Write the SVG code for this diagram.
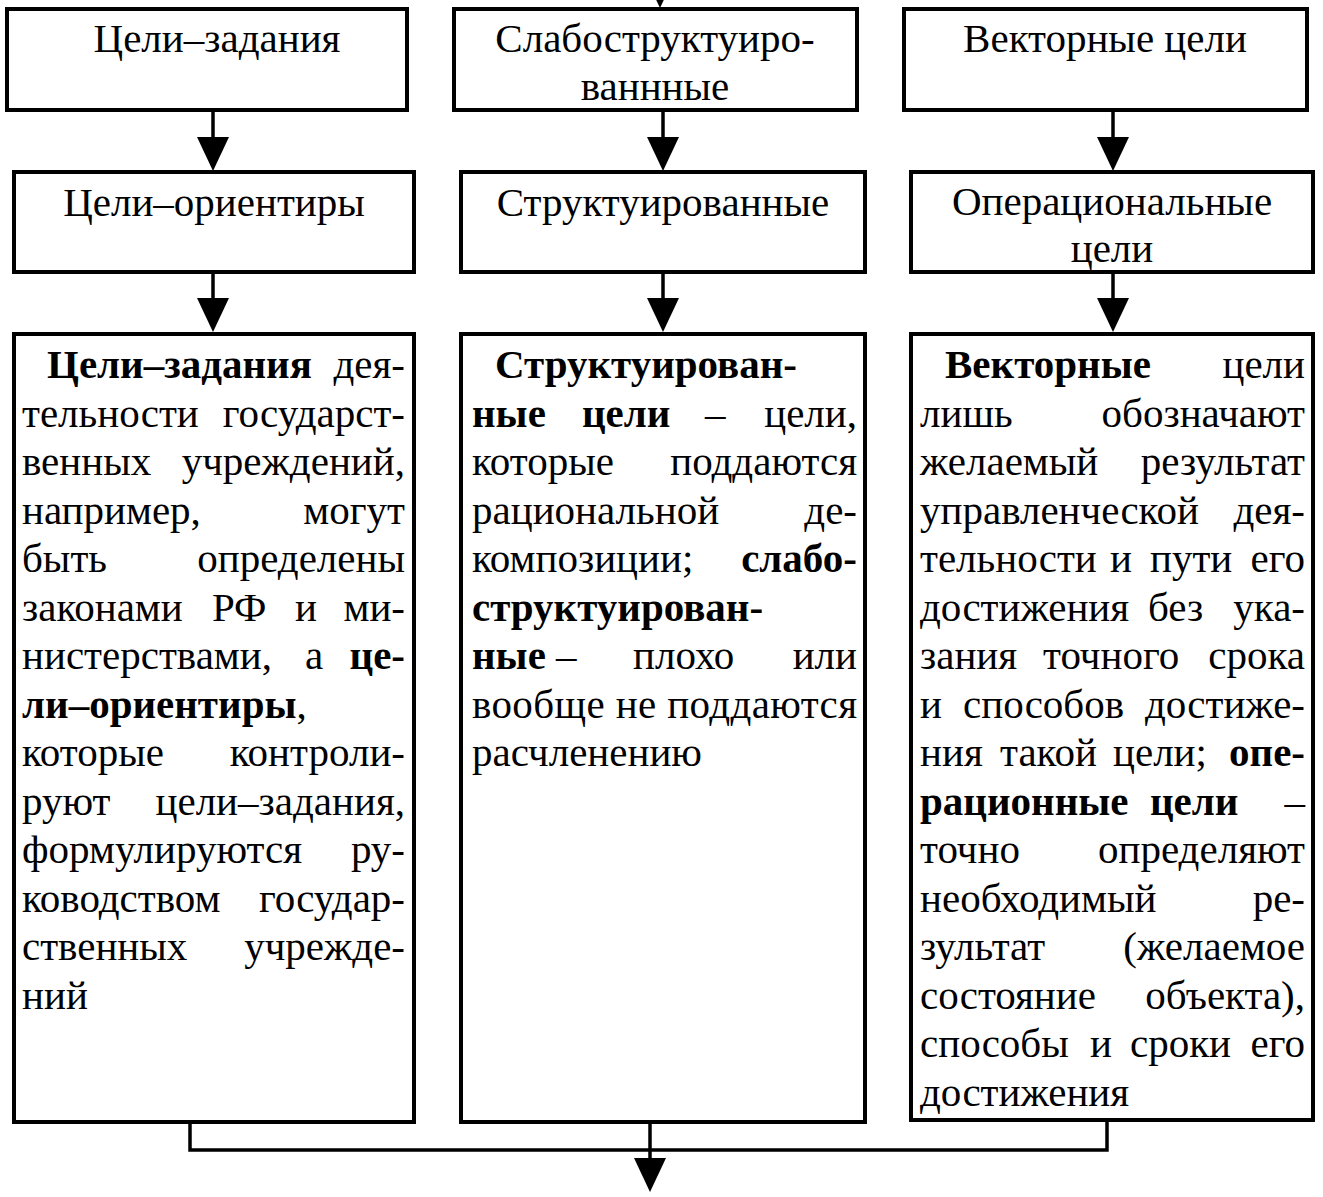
<svg xmlns="http://www.w3.org/2000/svg" width="1323" height="1197" viewBox="0 0 1323 1197">
<style>
.box{fill:#ffffff;stroke:#000;stroke-width:4}
text{font-family:"Liberation Serif","Times New Roman",serif;font-size:41px;fill:#000}
.h{text-anchor:middle}
.b{font-weight:bold}
.e{text-anchor:end}
.ln{stroke:#000;stroke-width:3.5;fill:none}
.ah{fill:#000}
</style>
<defs>
<path id="head" d="M-16,0 L16,0 L0,34 Z"/>
</defs>
<rect width="1323" height="1197" fill="#fff"/>

<g id="connectors">
<line class="ln" x1="660" y1="-30" x2="660" y2="-20"/>
<use href="#head" class="ah" x="660" y="-26"/>
<line class="ln" x1="213" y1="110" x2="213" y2="140"/>
<use href="#head" class="ah" x="213" y="137"/>
<line class="ln" x1="663" y1="110" x2="663" y2="140"/>
<use href="#head" class="ah" x="663" y="137"/>
<line class="ln" x1="1113" y1="110" x2="1113" y2="140"/>
<use href="#head" class="ah" x="1113" y="137"/>
<line class="ln" x1="213" y1="272" x2="213" y2="302"/>
<use href="#head" class="ah" x="213" y="298"/>
<line class="ln" x1="663" y1="272" x2="663" y2="302"/>
<use href="#head" class="ah" x="663" y="298"/>
<line class="ln" x1="1113" y1="272" x2="1113" y2="302"/>
<use href="#head" class="ah" x="1113" y="298"/>
<polyline class="ln" points="190,1122 190,1150 1107,1150 1107,1120"/>
<line class="ln" x1="650" y1="1122" x2="650" y2="1162"/>
<use href="#head" class="ah" x="650" y="1158"/>
</g>

<g id="n-goals-tasks">
<rect class="box" x="7" y="9" width="400" height="101"/>
<text class="h" x="217" y="52">Цели–задания</text>
</g>
<g id="n-weakly-structured">
<rect class="box" x="454" y="9" width="403" height="101"/>
<text class="h" x="655" y="52">Слабоструктуиро-</text>
<text class="h" x="655" y="100">ваннные</text>
</g>
<g id="n-vector">
<rect class="box" x="904" y="9" width="403" height="101"/>
<text class="h" x="1105" y="52">Векторные цели</text>
</g>

<g id="n-goals-landmarks">
<rect class="box" x="14" y="172" width="400" height="100"/>
<text class="h" x="214" y="216">Цели–ориентиры</text>
</g>
<g id="n-structured">
<rect class="box" x="461" y="172" width="404" height="100"/>
<text class="h" x="663" y="216">Структуированные</text>
</g>
<g id="n-operational">
<rect class="box" x="911" y="172" width="402" height="100"/>
<text class="h" x="1112" y="215">Операциональные</text>
<text class="h" x="1112" y="262">цели</text>
</g>

<g id="n-desc-1">
<rect class="box" x="14" y="334" width="400" height="788"/>
<text class="b" x="47" y="378">Цели–задания</text><text class="e" x="405" y="378">дея-</text>
<text x="22" y="426.5">тельности</text><text class="e" x="405" y="426.5">государст-</text>
<text x="22" y="475">венных</text><text class="e" x="405" y="475">учреждений,</text>
<text x="22" y="523.5">например,</text><text class="e" x="405" y="523.5">могут</text>
<text x="22" y="572">быть</text><text class="e" x="405" y="572">определены</text>
<text x="22" y="620.5">законами</text><text x="212" y="620.5">РФ</text><text x="295" y="620.5">и</text><text class="e" x="405" y="620.5">ми-</text>
<text x="22" y="669">нистерствами,</text><text x="305" y="669">а</text><text class="e b" x="405" y="669">це-</text>
<text x="22" y="717.5"><tspan class="b">ли–ориентиры</tspan>,</text>
<text x="22" y="766">которые</text><text class="e" x="405" y="766">контроли-</text>
<text x="22" y="814.5">руют</text><text class="e" x="405" y="814.5">цели–задания,</text>
<text x="22" y="863">формулируются</text><text class="e" x="405" y="863">ру-</text>
<text x="22" y="911.5">ководством</text><text class="e" x="405" y="911.5">государ-</text>
<text x="22" y="960">ственных</text><text class="e" x="405" y="960">учрежде-</text>
<text x="22" y="1008.5">ний</text>
</g>

<g id="n-desc-2">
<rect class="box" x="461" y="334" width="404" height="788"/>
<text class="b" x="495" y="378">Структуирован-</text>
<text class="b" x="472" y="426.5">ные</text><text class="b" x="582" y="426.5">цели</text><text x="705" y="426.5">–</text><text class="e" x="857" y="426.5">цели,</text>
<text x="472" y="475">которые</text><text class="e" x="857" y="475">поддаются</text>
<text x="472" y="523.5">рациональной</text><text class="e" x="857" y="523.5">де-</text>
<text x="472" y="572">композиции;</text><text class="e b" x="857" y="572">слабо-</text>
<text class="b" x="472" y="620.5">структуирован-</text>
<text x="472" y="669"><tspan class="b">ные</tspan> –</text><text x="633" y="669">плохо</text><text class="e" x="857" y="669">или</text>
<text x="472" y="717.5" textLength="385" lengthAdjust="spacing">вообще не поддаются</text>
<text x="472" y="766">расчленению</text>
</g>

<g id="n-desc-3">
<rect class="box" x="911" y="334" width="402" height="786"/>
<text class="b" x="945" y="378">Векторные</text><text class="e" x="1305" y="378">цели</text>
<text x="920" y="426.5">лишь</text><text class="e" x="1305" y="426.5">обозначают</text>
<text x="920" y="475">желаемый</text><text class="e" x="1305" y="475">результат</text>
<text x="920" y="523.5">управленческой</text><text class="e" x="1305" y="523.5">дея-</text>
<text x="920" y="572">тельности</text><text x="1110" y="572">и</text><text x="1150" y="572">пути</text><text class="e" x="1305" y="572">его</text>
<text x="920" y="620.5">достижения</text><text x="1148" y="620.5">без</text><text class="e" x="1305" y="620.5">ука-</text>
<text x="920" y="669">зания</text><text x="1043" y="669">точного</text><text class="e" x="1305" y="669">срока</text>
<text x="920" y="717.5">и</text><text x="963" y="717.5">способов</text><text class="e" x="1305" y="717.5">достиже-</text>
<text x="920" y="766">ния</text><text x="1000" y="766">такой</text><text x="1113" y="766">цели;</text><text class="e b" x="1305" y="766">опе-</text>
<text class="b" x="920" y="814.5">рационные</text><text class="b" x="1150" y="814.5">цели</text><text class="e" x="1305" y="814.5">–</text>
<text x="920" y="863">точно</text><text class="e" x="1305" y="863">определяют</text>
<text x="920" y="911.5">необходимый</text><text class="e" x="1305" y="911.5">ре-</text>
<text x="920" y="960">зультат</text><text class="e" x="1305" y="960">(желаемое</text>
<text x="920" y="1008.5">состояние</text><text class="e" x="1305" y="1008.5">объекта),</text>
<text x="920" y="1057">способы</text><text x="1090" y="1057">и</text><text x="1130" y="1057">сроки</text><text class="e" x="1305" y="1057">его</text>
<text x="920" y="1105.5">достижения</text>
</g>
</svg>
